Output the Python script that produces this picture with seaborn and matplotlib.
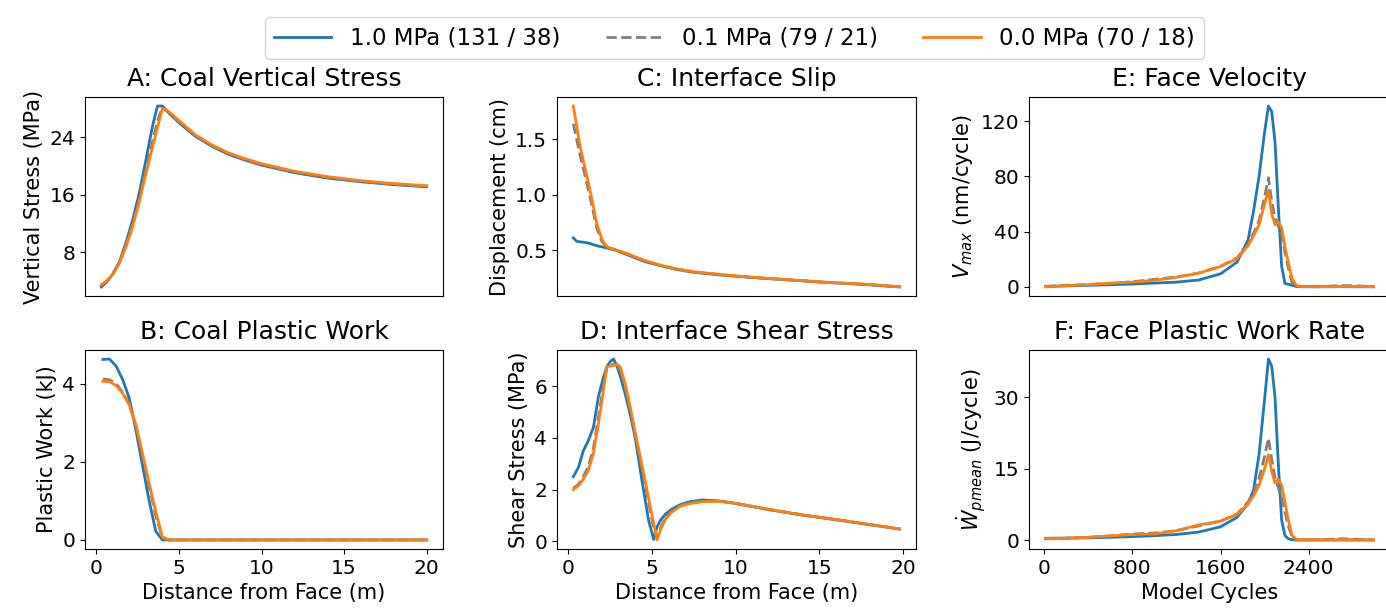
import matplotlib
matplotlib.use("Agg")
import matplotlib.pyplot as plt
import seaborn as sns
import pandas as pd

# ---------------- data ----------------
cases = ["1.0 MPa", "0.1 MPa", "0.0 MPa"]
legend_labels = ["1.0 MPa (131 / 38)", "0.1 MPa (79 / 21)", "0.0 MPa (70 / 18)"]

# A: coal vertical stress
xa = [0.3, 0.6, 1.0, 1.4, 1.8, 2.2, 2.6, 3.0, 3.4, 3.7, 4.0, 4.4, 5.0, 6.0, 7.0, 8.0,
      9.0, 10.0, 12.0, 14.0, 16.0, 18.0, 20.0]
a_10 = [3.2, 3.8, 5.0, 6.7, 9.4, 12.5, 16.2, 20.8, 25.5, 28.3, 28.3, 27.3, 26.0, 24.1,
        22.7, 21.6, 20.8, 20.1, 19.05, 18.3, 17.8, 17.4, 17.1]
a_01 = [3.4, 3.9, 5.0, 6.6, 9.0, 11.9, 15.4, 19.4, 23.3, 26.2, 28.1, 27.4, 26.2, 24.2,
        22.8, 21.7, 20.9, 20.2, 19.15, 18.4, 17.85, 17.45, 17.15]
a_00 = [3.5, 4.0, 5.0, 6.5, 8.8, 11.6, 15.0, 18.9, 22.6, 25.3, 28.0, 27.5, 26.3, 24.3,
        22.9, 21.8, 21.0, 20.3, 19.25, 18.5, 17.95, 17.55, 17.25]

# B: coal plastic work
xb = [0.4, 0.8, 1.2, 1.6, 2.0, 2.4, 2.8, 3.2, 3.6, 4.0, 4.4, 5.0, 6.0, 8.0, 10.0, 12.0,
      14.0, 16.0, 18.0, 20.0]
b_10 = [4.62, 4.63, 4.45, 4.10, 3.62, 2.80, 1.90, 1.00, 0.22, 0.0, 0.0, 0.0, 0.0, 0.0,
        0.0, 0.0, 0.0, 0.0, 0.0, 0.0]
b_01 = [4.12, 4.10, 4.00, 3.78, 3.47, 2.93, 2.15, 1.38, 0.62, 0.05, 0.0, 0.0, 0.0, 0.0,
        0.0, 0.0, 0.0, 0.0, 0.0, 0.0]
b_00 = [4.06, 4.05, 3.95, 3.75, 3.45, 2.95, 2.20, 1.45, 0.72, 0.08, 0.0, 0.0, 0.0, 0.0,
        0.0, 0.0, 0.0, 0.0, 0.0, 0.0]

# C: interface slip
xc = [0.3, 0.5, 0.7, 1.0, 1.3, 1.7, 2.0, 2.3, 2.7, 3.0, 3.5, 4.0, 4.5, 5.5, 6.5, 7.5,
      9.5, 11.5, 13.5, 15.5, 17.5, 19.8]
c_10 = [0.61, 0.58, 0.575, 0.57, 0.56, 0.54, 0.53, 0.52, 0.505, 0.49, 0.46, 0.43, 0.40,
        0.36, 0.325, 0.30, 0.27, 0.248, 0.228, 0.208, 0.192, 0.168]
c_01 = [1.64, 1.50, 1.36, 1.17, 0.98, 0.70, 0.58, 0.525, 0.508, 0.493, 0.468, 0.438,
        0.408, 0.363, 0.328, 0.303, 0.273, 0.249, 0.229, 0.209, 0.194, 0.169]
c_00 = [1.80, 1.62, 1.44, 1.24, 1.04, 0.74, 0.60, 0.53, 0.51, 0.495, 0.47, 0.44, 0.41,
        0.365, 0.33, 0.305, 0.275, 0.25, 0.23, 0.21, 0.195, 0.17]

# D: interface shear stress
xd = [0.3, 0.6, 0.9, 1.2, 1.5, 1.8, 2.1, 2.3, 2.5, 2.7, 2.9, 3.1, 3.4, 3.7, 4.0, 4.4,
      4.8, 5.1, 5.3, 5.5, 5.8, 6.2, 6.7, 7.2, 8.0, 9.0, 10.0, 12.0, 14.0, 16.0, 18.0, 19.8]
d_10 = [2.5, 2.85, 3.5, 3.9, 4.4, 5.6, 6.35, 6.75, 6.95, 7.05, 6.8, 6.4, 5.7, 4.9, 4.0,
        2.35, 0.8, 0.07, 0.55, 0.8, 1.05, 1.25, 1.42, 1.52, 1.6, 1.56, 1.46, 1.22, 1.01,
        0.83, 0.64, 0.47]
d_01 = [2.05, 2.2, 2.5, 2.9, 3.6, 4.8, 6.0, 6.7, 6.8, 6.85, 6.8, 6.6, 5.95, 5.1, 4.1,
        2.85, 1.5, 0.5, 0.15, 0.5, 0.9, 1.18, 1.38, 1.48, 1.55, 1.55, 1.47, 1.23, 1.02,
        0.84, 0.65, 0.48]
d_00 = [2.0, 2.15, 2.4, 2.75, 3.4, 4.55, 5.85, 6.75, 6.78, 6.8, 6.85, 6.75, 6.1, 5.2,
        4.2, 2.95, 1.65, 0.7, 0.05, 0.43, 0.85, 1.13, 1.36, 1.45, 1.53, 1.55, 1.47, 1.23,
        1.02, 0.84, 0.65, 0.48]

# E / F: model cycles
xe = [10, 200, 400, 600, 800, 1000, 1200, 1400, 1600, 1750, 1850, 1900, 1950, 2000,
      2035, 2065, 2095, 2125, 2155, 2185, 2215, 2250, 2290, 2350, 2500, 2700, 2850, 2990]
e_10 = [0.3, 0.8, 1.2, 1.6, 2.1, 2.8, 3.5, 5.0, 9.5, 18, 34, 55, 80, 112, 131, 127, 105,
        58, 15, 2.5, 2.0, 1.2, 0.3, 0.1, 0.1, 0.2, 0.1, 0.1]
e_01 = [0.5, 1.2, 1.8, 2.5, 3.8, 5.5, 7.2, 10, 15, 21, 31, 39, 48, 65, 79, 62, 50, 44, 38,
        25, 14, 3, 0.5, 0.3, 0.3, 1.0, 0.8, 0.2]
e_00 = [0.0, 1.0, 1.7, 2.8, 3.5, 4.8, 7.0, 10.0, 14.8, 20.5, 30, 37, 45, 60, 70, 53, 45,
        47, 43, 29, 18, 6, 1, 0.3, 0.2, 0.3, 0.3, 0.2]

f_10 = [0.4, 0.45, 0.5, 0.6, 0.75, 0.95, 1.2, 1.7, 2.8, 4.8, 7.7, 10.5, 18, 29.5, 38,
        36.5, 30, 16, 4.2, 1.0, 0.3, 0.1, 0.05, 0.05, 0.05, 0.05, 0.05, 0.05]
f_01 = [0.3, 0.4, 0.6, 0.9, 1.3, 1.5, 2.0, 3.0, 4.0, 5.5, 8.0, 10.0, 13.0, 17.5, 21.4,
        17, 13, 11, 9, 6, 3, 0.8, 0.1, 0.1, 0.1, 0.3, 0.2, 0.05]
f_00 = [0.3, 0.4, 0.6, 0.9, 1.2, 1.3, 2.0, 3.2, 4.0, 5.4, 7.6, 9.3, 11.5, 15.0, 17.9,
        14.5, 12.0, 12.8, 11.5, 8.0, 4.3, 1.0, 0.1, 0.1, 0.05, 0.1, 0.05, 0.05]

titles = ["A: Coal Vertical Stress", "B: Coal Plastic Work", "C: Interface Slip",
          "D: Interface Shear Stress", "E: Face Velocity", "F: Face Plastic Work Rate"]
ylabels = ["Vertical Stress (MPa)", "Plastic Work (kJ)", "Displacement (cm)",
           "Shear Stress (MPa)", r"$V_{max}$ (nm/cycle)", r"$\dot{W}_{pmean}$ (J/cycle)"]
yticks = [[8, 16, 24], [0, 2, 4], [0.5, 1.0, 1.5], [0, 2, 4, 6], [0, 40, 80, 120],
          [0, 15, 30]]
xticks_dist = [0, 5, 10, 15, 20]
xticks_cyc = [0, 800, 1600, 2400]

# ---------------- plotting ----------------
W, H = 1386, 615
fig = plt.figure(figsize=(W / 100, H / 100), dpi=100)

palette = {"1.0 MPa": "#1f77b4", "0.1 MPa": "#7f7f7f", "0.0 MPa": "#ff7f0e"}
dashes = {"1.0 MPa": "", "0.1 MPa": (3.7, 1.6), "0.0 MPa": ""}

def frame(x, ys):
    rows = []
    for case, y in zip(cases, ys):
        for xv, yv in zip(x, y):
            rows.append({"x": xv, "y": yv, "case": case})
    return pd.DataFrame(rows)

panels = [
    (xa, [a_10, a_01, a_00]),
    (xb, [b_10, b_01, b_00]),
    (xc, [c_10, c_01, c_00]),
    (xd, [d_10, d_01, d_00]),
    (xe, [e_10, e_01, e_00]),
    (xe, [f_10, f_01, f_00]),
]

# pixel boxes: left, right, top, bottom
boxes = [
    (85, 443, 97, 296), (85, 443, 350, 549),
    (557, 916, 97, 296), (557, 916, 350, 549),
    (1029, 1390, 97, 296), (1029, 1390, 350, 549),
]

axes = []
for i, ((x, ys), (l, r, t, b)) in enumerate(zip(panels, boxes)):
    ax = fig.add_axes([l / W, 1 - b / H, (r - l) / W, (b - t) / H])
    df = frame(x, ys)
    sns.lineplot(data=df, x="x", y="y", hue="case", style="case", palette=palette,
                 dashes=dashes, hue_order=cases, style_order=cases, linewidth=2.0,
                 estimator=None, sort=True, legend=False, ax=ax)
    ax.set_title(titles[i], fontsize=18, pad=8)
    ax.set_ylabel(ylabels[i], fontsize=15)
    ax.set_yticks(yticks[i])
    ax.tick_params(labelsize=14.5)
    if i in (4, 5):
        ax.set_xticks(xticks_cyc)
    else:
        ax.set_xticks(xticks_dist)
    if i % 2 == 0:
        ax.tick_params(axis="x", bottom=False, labelbottom=False)
        ax.set_xlabel("")
    else:
        ax.set_xlabel("Model Cycles" if i == 5 else "Distance from Face (m)", fontsize=15)
    axes.append(ax)

# consistent x ranges between rows
for top_ax, bot_ax in [(axes[0], axes[1]), (axes[2], axes[3]), (axes[4], axes[5])]:
    lo = min(top_ax.get_xlim()[0], bot_ax.get_xlim()[0])
    hi = max(top_ax.get_xlim()[1], bot_ax.get_xlim()[1])
    top_ax.set_xlim(lo, hi)
    bot_ax.set_xlim(lo, hi)

handles = axes[0].get_lines()[:3]
fig.legend(handles, legend_labels, loc="upper center", ncol=3,
           bbox_to_anchor=(734.5 / W, 1 - 6 / H), fontsize=16.5, frameon=True,
           handlelength=2.5, columnspacing=2.0)

fig.savefig("out.png", dpi=100)
